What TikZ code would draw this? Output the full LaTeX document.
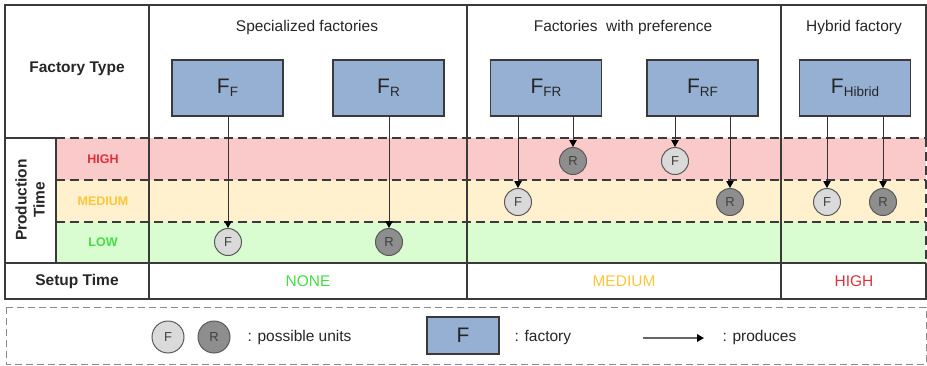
\documentclass[tikz,border=0pt]{standalone}
\usepackage{fontspec}
\setmainfont{Liberation Sans}
\usetikzlibrary{arrows.meta}

\definecolor{tline}{HTML}{3A3A3A}
\definecolor{factblue}{HTML}{95B0D3}
\definecolor{bandhigh}{HTML}{FACACA}
\definecolor{bandmed}{HTML}{FFF1CE}
\definecolor{bandlow}{HTML}{D9FDD0}
\definecolor{txthigh}{HTML}{E0303A}
\definecolor{txtmed}{HTML}{FBC63A}
\definecolor{txtlow}{HTML}{44DD44}
\definecolor{unitF}{HTML}{DADADA}
\definecolor{unitR}{HTML}{8E8E8E}
\definecolor{legdash}{HTML}{8A8A8A}

% factory label: large letter with a lowered index
\newcommand\factlabel[2]{{\fontsize{21}{24}\selectfont #1}\raisebox{-3.5pt}{\fontsize{13.5}{14}\selectfont #2}}

\tikzset{
  grid/.style={draw=tline, line width=1.2pt},
  banddash/.style={draw=tline, line width=1.2pt, dash pattern=on 9pt off 5pt},
  factory/.style={draw=tline, fill=factblue, line width=1.2pt,
    minimum width=111pt, minimum height=56pt, inner sep=0pt, text=black!85},
  unit/.style={circle, draw=black!65, line width=1pt, minimum size=27pt,
    inner sep=0pt, font=\fontsize{13}{14}\selectfont, text=black!75},
  funit/.style={unit, fill=unitF},
  runit/.style={unit, fill=unitR},
  arr/.style={draw=black!80, line width=1pt,
    -{Triangle[length=7pt,width=7.5pt,color=black]}},
  head/.style={font=\fontsize{15.5}{18}\selectfont, text=black!85},
  bhead/.style={font=\bfseries\fontsize{15.5}{18}\selectfont, text=black!85},
  lvl/.style={font=\bfseries\fontsize{12.5}{14}\selectfont},
  legtext/.style={anchor=west, font=\fontsize{15.5}{18}\selectfont, text=black!85},
}

\begin{document}
\begin{tikzpicture}[x=1pt, y=-1pt]
\useasboundingbox (0,0) rectangle (927,365);

% production-time bands
\fill[bandhigh] (56,138) rectangle (926,180);
\fill[bandmed]  (56,180) rectangle (926,222);
\fill[bandlow]  (56,222) rectangle (926,263);

% dashed band borders
\draw[banddash] (56,138) -- (926,138);
\draw[banddash] (56,180) -- (926,180);
\draw[banddash] (56,222) -- (926,222);
\draw[banddash] (926,138) -- (926,263);

% table frame and rules
\draw[grid] (926,138) -- (926,5) -- (5,5) -- (5,299) -- (926,299) -- (926,263);
\draw[grid] (5,138) -- (56,138);
\draw[grid] (5,263) -- (926,263);
\draw[grid] (56,138) -- (56,263);
\draw[grid] (149,5) -- (149,299);
\draw[grid] (467,5) -- (467,299);
\draw[grid] (781,5) -- (781,299);

% row and column headings
\node[bhead] (ftype) at (77,69) {Factory Type};
\node[bhead, rotate=90, align=center] (ptime) at (30,200) {Production\\Time};
\node[bhead] (stime) at (77,281) {Setup Time};
\node[head] (hspec) at (307,27) {Specialized factories};
\node[head] (hpref) at (623,27) {Factories\ \ with preference};
\node[head] (hhyb)  at (854,27) {Hybrid factory};

% production-time levels
\node[lvl, text=txthigh] (lhigh) at (103,159) {HIGH};
\node[lvl, text=txtmed]  (lmed)  at (103,201) {MEDIUM};
\node[lvl, text=txtlow]  (llow)  at (103,242) {LOW};

% setup-time values
\node[head, text=txtlow]  (snone) at (308,281) {NONE};
\node[head, text=txtmed]  (smed)  at (624,281) {MEDIUM};
\node[head, text=txthigh] (shigh) at (854,281) {HIGH};

% factories
\node[factory] (ff)  at (227.5,88) {\factlabel{F}{F}};
\node[factory] (fr)  at (388.5,88) {\factlabel{F}{R}};
\node[factory] (ffr) at (546,88)   {\factlabel{F}{FR}};
\node[factory] (frf) at (702.5,88) {\factlabel{F}{RF}};
\node[factory] (fh)  at (855,88)   {\factlabel{F}{Hibrid}};

% units
\node[funit] (uf1) at (228,242) {F};
\node[runit] (ur1) at (389,242) {R};
\node[funit] (uf2) at (518,202) {F};
\node[runit] (ur2) at (573,161) {R};
\node[funit] (uf3) at (675,161) {F};
\node[runit] (ur3) at (730,202) {R};
\node[funit] (uf4) at (827,202) {F};
\node[runit] (ur4) at (883,202) {R};

% production arrows
\draw[arr] (ff.south -| uf1)  -- (uf1.north);
\draw[arr] (fr.south -| ur1)  -- (ur1.north);
\draw[arr] (ffr.south -| uf2) -- (uf2.north);
\draw[arr] (ffr.south -| ur2) -- (ur2.north);
\draw[arr] (frf.south -| uf3) -- (uf3.north);
\draw[arr] (frf.south -| ur3) -- (ur3.north);
\draw[arr] (fh.south -| uf4)  -- (uf4.north);
\draw[arr] (fh.south -| ur4)  -- (ur4.north);

% legend
\draw[draw=legdash, line width=1pt, dash pattern=on 7pt off 4pt] (6,307) rectangle (926,364);
\node[funit, minimum size=32pt] (lgf) at (168,337) {F};
\node[runit, minimum size=32pt] (lgr) at (214,337) {R};
\node[legtext] (lgunits) at (244,337) {: possible units};
\node[factory, minimum width=72pt, minimum height=37pt] (lgfact) at (463,335.5)
  {\fontsize{21}{24}\selectfont F};
\node[legtext] (lgfacttxt) at (511,337) {: factory};
\coordinate (lga) at (643,338);
\coordinate (lgb) at (704,338);
\draw[arr, draw=black!60, line width=2pt] (lga) -- (lgb);
\node[legtext] (lgprod) at (719,337) {: produces};
\end{tikzpicture}
\end{document}
